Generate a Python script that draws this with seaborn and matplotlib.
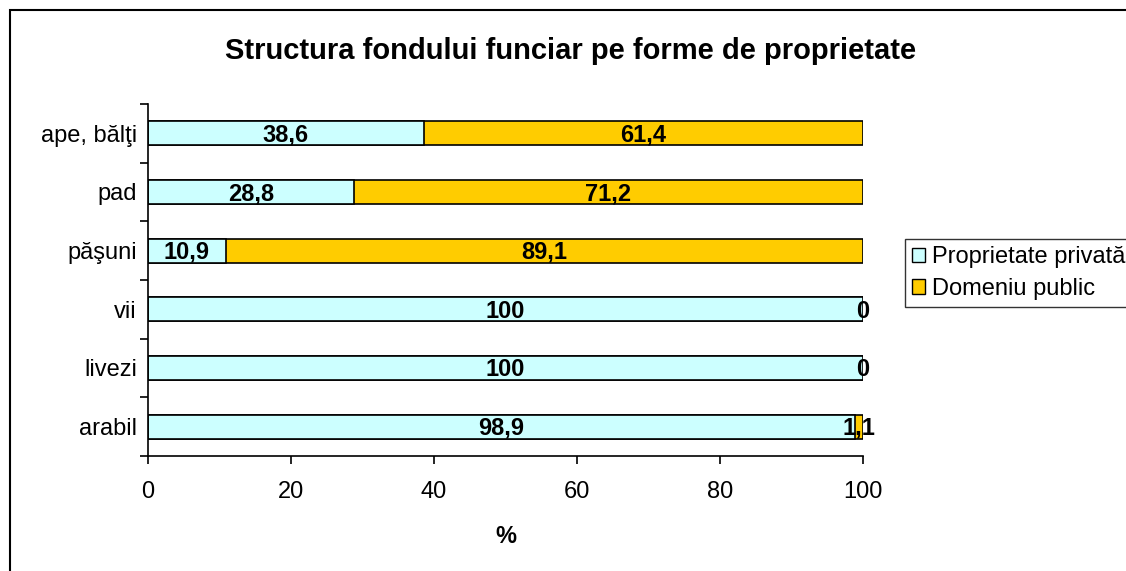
import pandas as pd
import seaborn as sns
import matplotlib.pyplot as plt
from matplotlib.patches import Rectangle, Patch

# data (top to bottom as in the chart)
categories = ['ape, bălţi', 'pad', 'păşuni', 'vii', 'livezi', 'arabil']
privata = [38.6, 28.8, 10.9, 100, 100, 98.9]
public = [61.4, 71.2, 89.1, 0, 0, 1.1]
xticks = [0, 20, 40, 60, 80, 100]

df = pd.DataFrame({'cat': categories, 'priv': privata, 'pub': public})
df['total'] = df['priv'] + df['pub']

sns.set_style('white')
plt.rcParams['font.family'] = ['Liberation Sans', 'DejaVu Sans']
plt.rcParams.update({'text.color': 'black', 'axes.labelcolor': 'black',
                     'xtick.color': 'black', 'ytick.color': 'black'})

fig = plt.figure(figsize=(11.26, 5.71), dpi=100)
ax = fig.add_axes([0.1314, 0.2014, 0.635, 0.6165])

c_priv = '#CCFFFF'
c_pub = '#FFCC00'

# stacked: full bar in public colour, private drawn over it
sns.barplot(data=df, y='cat', x='total', color=c_pub, edgecolor='black',
            linewidth=1.2, width=0.41, orient='h', ax=ax, saturation=1)
sns.barplot(data=df, y='cat', x='priv', color=c_priv, edgecolor='black',
            linewidth=1.2, width=0.41, orient='h', ax=ax, saturation=1)

def fmt(v):
    return ('%g' % v).replace('.', ',')

for i, row in df.iterrows():
    ax.text(row['priv'] / 2, i + 0.03, fmt(row['priv']), ha='center', va='center',
            fontsize=17, fontweight='bold')
    ax.text(row['priv'] + row['pub'] / 2, i + 0.03, fmt(row['pub']), ha='center',
            va='center', fontsize=17, fontweight='bold')

ax.set_xlim(0, 100)
ax.set_ylim(len(categories) - 0.5, -0.5)
ax.set_xticks(xticks)
ax.set_xticklabels([str(t) for t in xticks], fontsize=17)
ax.set_yticks(range(len(categories)))
ax.set_yticklabels(categories, fontsize=17)
ax.set_yticks([i - 0.5 for i in range(len(categories) + 1)], minor=True)
ax.tick_params(axis='y', which='major', length=0, pad=8)
ax.tick_params(axis='y', which='minor', length=6, width=1.2, direction='out', left=True)
ax.tick_params(axis='x', which='major', length=6, width=1.2, direction='out', bottom=True, pad=12)
ax.set_xlabel('%', fontsize=17, fontweight='bold', labelpad=16)
ax.set_ylabel('')
for s in ['top', 'right']:
    ax.spines[s].set_visible(False)
for s in ['left', 'bottom']:
    ax.spines[s].set_color('black')
    ax.spines[s].set_linewidth(1.2)

fig.suptitle('Structura fondului funciar pe forme de proprietate', x=0.5065, y=0.935,
             fontsize=21, fontweight='bold')

handles = [Patch(facecolor=c_priv, edgecolor='black', label='Proprietate privată'),
           Patch(facecolor=c_pub, edgecolor='black', label='Domeniu public')]
leg = fig.legend(handles=handles, loc='upper left', bbox_to_anchor=(0.804, 0.581),
                 fontsize=17, frameon=True, fancybox=False, handlelength=0.55,
                 handleheight=0.55, handletextpad=0.3, borderpad=0.3, labelspacing=0.4,
                 borderaxespad=0)
leg.get_frame().set_edgecolor('black')
leg.get_frame().set_linewidth(1.0)

# outer chart frame
fig.patches.append(Rectangle((0.009, -0.1), 1.2, 1.0825, transform=fig.transFigure,
                             fill=False, edgecolor='black', linewidth=1.5))

fig.savefig('out.png', dpi=100)
